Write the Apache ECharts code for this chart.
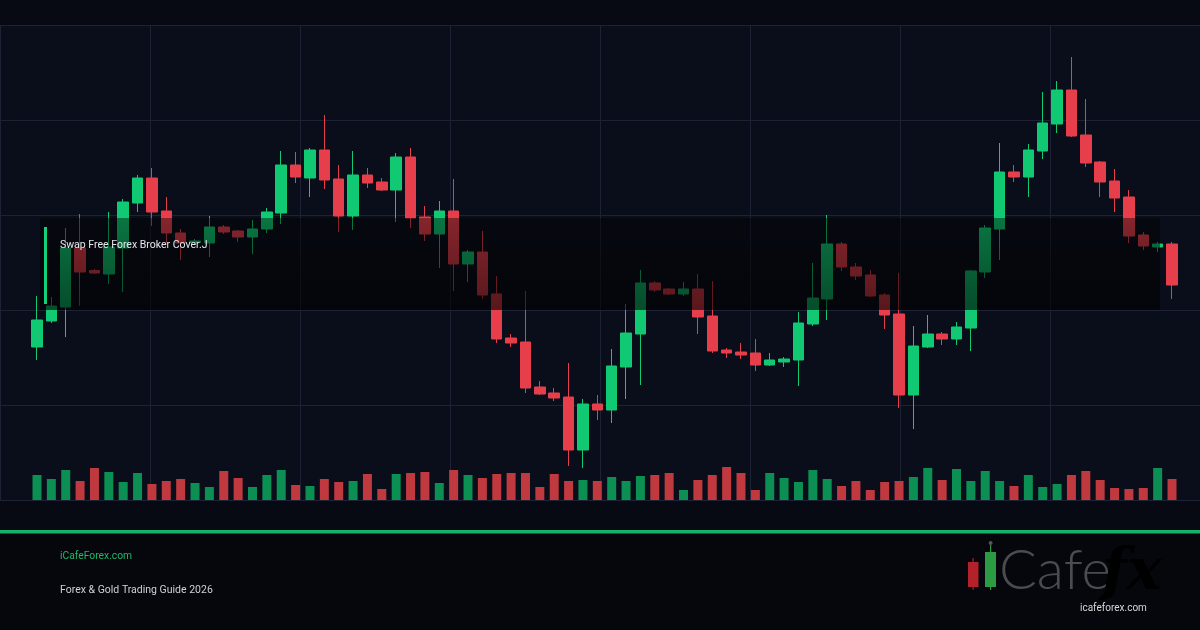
<!DOCTYPE html>
<html>
<head>
<meta charset="utf-8">
<script src="https://cdn.jsdelivr.net/npm/echarts@6/dist/echarts.min.js"></script>
<style>
html,body{margin:0;padding:0;background:#070a12;}
#c{width:1200px;height:630px;}
</style>
</head>
<body>
<div id="c"></div>
<script>
// Candles: [open, close, low, high]
var candles = [
[30.6,36,28,40.8],[35.8,38.8,35.4,40.6],[38.6,50.4,32.6,54.4],[50.4,45.6,38.8,57.2],[45.9,45.4,45.2,46.2],
[45.2,50.6,43.2,57.6],[50.4,59.6,41.6,60.2],[59.4,64.4,57.6,65],[64.4,57.6,54.8,66.4],[57.8,53.4,51.4,60.6],
[53.4,51.4,48,54.2],[51.5,51.8,51.2,52.2],[51.4,54.6,48.6,56.8],[54.6,53.6,53.2,55],[53.8,52.6,51.6,54],
[52.6,54.2,49.2,56],[54.2,57.6,53.4,58.4],[57.4,67,55.2,69.8],[67,64.6,63.4,69.6],[64.4,70,60.6,70.4],
[70,64,62.2,77],[64.2,56.8,53.6,67],[56.8,65,54,69.8],[65,63.4,62.4,66.4],[63.6,62,61.8,64.4],
[62,68.6,55.6,69.4],[68.6,56.4,54.4,70.4],[56.6,53.2,51.8,58.8],[53.2,57.8,46.4,59.8],[57.8,47.2,41.8,64.2],
[47.2,49.6,43.6,50],[49.6,41,40.2,53.8],[41.2,32.2,31.4,44.8],[32.4,31.4,30.6,33.2],[31.6,22.4,21.4,41.8],
[22.6,21.2,21,23.8],[21.4,20.4,19.8,22.4],[20.6,10,6.8,27.4],[10,19.2,6.4,20.2],[19.2,18,16,21],
[18,26.8,15.4,30.2],[26.6,33.4,20.2,39.2],[33.2,43.4,23,46],[43.4,42,41.6,43.8],[42.2,41.2,41,42.4],
[41.2,42.2,40.8,43.6],[42.2,36.6,33.2,45.2],[36.8,29.8,29.4,43.8],[30,29.4,28.4,30.4],[29.6,29,28.2,31.4],
[29.4,27,25.8,32.2],[27,28,26.8,29.4],[27.6,28.2,26.6,28.6],[28,35.4,22.8,37.6],[35.2,40.4,34.8,47.4],
[40.2,51.2,36,57],[51.2,46.6,45.8,51.6],[46.6,44.8,44,47.4],[45,40.8,40.6,46],[41,37,34.2,41.4],
[37.2,21,18.4,45.4],[21,30.8,14.2,34.8],[30.6,33.2,30.4,37],[33.2,32.2,31,33.6],[32.2,34.6,31,35.6],
[34.4,45.8,29.8,46],[45.6,54.4,44.4,55],[54.2,65.6,48,71.4],[65.6,64.6,63.6,67],[64.6,70,60.6,71.2],
[69.8,75.4,68.2,81.6],[75.2,82,73.4,83.8],[82,72.8,72.6,88.6],[73,67.4,66.6,80.2],[67.6,63.6,60.6,67.8],
[63.8,60.4,57.6,66.2],[60.6,52.8,51.4,62],[53,50.8,50,53.6],[50.6,51.2,49.6,51.6],[51.2,43,40.2,51.6]
];
var volumes = [
25,21,30,19,32,28,18,27,16,19,21,17,13,29,22,13,25,30,15,14,
21,18,19,26,11,26,27,28,17,30,25,22,26,27,27,13,26,19,20,19,
23,19,24,25,27,10,20,25,33,27,10,27,22,18,30,21,14,19,10,18,
19,23,32,20,31,19,29,19,14,25,13,16,25,29,20,12,11,12,32,21
];
var categories = candles.map(function(_, i){ return 'D' + (i + 1); });
var priceTicks = [0, 19, 38, 57, 76, 95];
var timeTicks = [0, 150, 300, 450, 600, 750, 900, 1050, 1200];

var UP = '#10c972', DOWN = '#e63e4b';
var VUP = '#0b8f52', VDOWN = '#c0393f';

var chart = echarts.init(document.getElementById('c'), null, {renderer: 'canvas'});
var font = 'Roboto, "Noto Sans", sans-serif';

chart.setOption({
  backgroundColor: '#070a12',
  animation: false,
  grid: [
    {left: 0, width: 1200, top: 25, height: 475, show: true, backgroundColor: '#0a0e1a', borderWidth: 0},
    {left: 29.8, width: 1149.4, top: 25, height: 475},
    {left: 29.8, width: 1149.4, top: 460, height: 40}
  ],
  xAxis: [
    {type: 'value', gridIndex: 0, min: timeTicks[0], max: timeTicks[timeTicks.length-1], interval: 150,
     axisLine: {show: false}, axisTick: {show: false}, axisLabel: {show: false},
     splitLine: {show: true, lineStyle: {color: '#1d2335', width: 1}}},
    {type: 'category', gridIndex: 1, data: categories, boundaryGap: true, show: false},
    {type: 'category', gridIndex: 2, data: categories, boundaryGap: true, show: false}
  ],
  yAxis: [
    {type: 'value', gridIndex: 0, min: priceTicks[0], max: priceTicks[priceTicks.length-1], interval: 19,
     axisLine: {show: false}, axisTick: {show: false}, axisLabel: {show: false},
     splitLine: {show: true, lineStyle: {color: '#1d2335', width: 1}}},
    {type: 'value', gridIndex: 1, min: 0, max: 95, show: false, splitLine: {show: false}},
    {type: 'value', gridIndex: 2, min: 0, max: 40, show: false, splitLine: {show: false}}
  ],
  series: [
    {type: 'candlestick', xAxisIndex: 1, yAxisIndex: 1, data: candles, barWidth: 11,
     itemStyle: {color: UP, color0: DOWN, borderColor: UP, borderColor0: DOWN, borderWidth: 1}},
    {type: 'bar', xAxisIndex: 2, yAxisIndex: 2, data: volumes, barWidth: 9,
     itemStyle: {color: function(p){ var c = candles[p.dataIndex]; return c[1] >= c[0] ? VUP : VDOWN; }}}
  ],
  graphic: [
    {type: 'rect', z: 50, shape: {x: 40, y: 218, width: 1120, height: 92},
     style: {fill: new echarts.graphic.LinearGradient(0, 0, 0, 1, [
       {offset: 0, color: 'rgba(0,0,0,0.42)'}, {offset: 1, color: 'rgba(0,0,0,0.62)'}])}},
    {type: 'rect', z: 51, shape: {x: 44, y: 227, width: 3, height: 77}, style: {fill: '#12d17a'}},
    {type: 'text', z: 52, x: 60, y: 245, style: {text: 'Swap Free Forex Broker Cover.J', fill: '#e6e8ec',
     font: '10.5px ' + font, textVerticalAlign: 'middle'}},
    // footer
    {type: 'rect', z: 40, shape: {x: 0, y: 533, width: 1200, height: 97}, style: {fill: '#05070c'}},
    {type: 'rect', z: 41, shape: {x: 0, y: 530, width: 1200, height: 3.5}, style: {fill: '#12b36a'}},
    {type: 'text', z: 42, x: 60, y: 556, style: {text: 'iCafeForex.com', fill: '#1fb86b',
     font: '10.3px ' + font, textVerticalAlign: 'middle'}},
    {type: 'text', z: 42, x: 60, y: 590, style: {text: 'Forex & Gold Trading Guide 2026', fill: '#cdd1d8',
     font: '10.5px ' + font, textVerticalAlign: 'middle'}},
    // logo
    {type: 'rect', z: 42, shape: {x: 972.5, y: 558, width: 1.2, height: 32}, style: {fill: '#a5202a'}},
    {type: 'rect', z: 43, shape: {x: 968, y: 562, width: 10.5, height: 25}, style: {fill: '#b3212b'}},
    {type: 'rect', z: 42, shape: {x: 990, y: 545, width: 1.2, height: 45}, style: {fill: '#2a9a44'}},
    {type: 'circle', z: 42, shape: {cx: 990.6, cy: 543, r: 2}, style: {fill: '#555'}},
    {type: 'rect', z: 43, shape: {x: 985, y: 552, width: 11, height: 35}, style: {fill: '#2b9c44'}},
    {type: 'text', z: 42, x: 999, y: 571, style: {text: 'Cafe', fill: '#4a4c50',
     font: '300 56px Lato, "Noto Sans", sans-serif', textVerticalAlign: 'middle'}},
    {type: 'text', z: 43, x: 1102, y: 574, style: {text: 'fx',
     fill: new echarts.graphic.LinearGradient(0, 0, 0, 1, [{offset: 0, color: '#d2b06a'}, {offset: 1, color: '#8c6c34'}]),
     font: 'italic bold 58px "DejaVu Serif", serif', textVerticalAlign: 'middle'}},
    {type: 'text', z: 43, x: 1080, y: 608, style: {text: 'icafeforex.com', fill: '#d8d8d8',
     font: '10px ' + font, textVerticalAlign: 'middle'}}
  ]
});
</script>
</body>
</html>
